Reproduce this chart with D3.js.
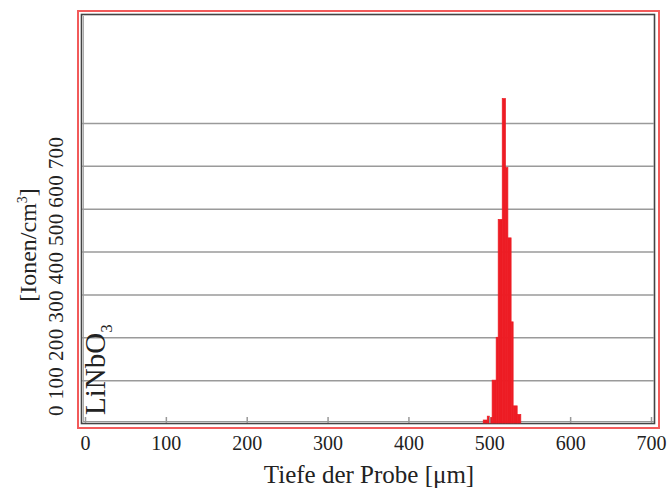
<!DOCTYPE html>
<html>
<head>
  <meta charset="utf-8" />
  <title>LiNbO3 Tiefenprofil</title>
  <style>
    body { margin: 0; background: #fff; }
    svg text { font-family: "Liberation Serif", "Times New Roman", serif; fill: #222; }
  </style>
</head>
<body>
  <svg id="chart" width="667" height="490"></svg>

  <script src="https://cdn.jsdelivr.net/npm/d3@7"></script>
  <script>
    // bin edges (µm) and counts
    var binEdges = [492.5, 497.5, 500, 503.5, 508.5, 511, 516, 520, 523, 527, 529.5, 534.5, 539]
    var counts = [7, 16, 13, 100, 200, 475, 757, 596, 432, 236, 40, 20]
    var xTicks = [0, 100, 200, 300, 400, 500, 600, 700]
    var yTicks = [0, 100, 200, 300, 400, 500, 600, 700]
    var xTitle = 'Tiefe der Probe [\u03bcm]'
    var material = 'LiNbO'

    var svg = d3.select('#chart')

    var x = d3.scaleLinear().domain([0, 700]).range([85, 651])
    var y = d3.scaleLinear().domain([0, 700]).range([423, 123])

    // frame: red outer line, dark inner line
    svg.append('rect')
      .attr('x', 78).attr('y', 11).attr('width', 581).attr('height', 417)
      .attr('fill', 'none').attr('stroke', '#f25a5a').attr('stroke-width', 2)
    svg.append('rect')
      .attr('x', 81.5).attr('y', 14.5).attr('width', 573).attr('height', 409)
      .attr('fill', 'none').attr('stroke', '#444').attr('stroke-width', 1.6)
    svg.append('line')
      .attr('x1', 83.5).attr('x2', 83.5).attr('y1', 16).attr('y2', 421)
      .attr('stroke', '#aaa').attr('stroke-width', 1)
    svg.append('line')
      .attr('x1', 83).attr('x2', 654).attr('y1', 421.5).attr('y2', 421.5)
      .attr('stroke', '#999').attr('stroke-width', 1)

    // horizontal grid lines
    var grid = svg.append('g')
      .attr('transform', 'translate(82,0)')
      .call(d3.axisLeft(y).tickValues(yTicks.slice(1)).tickSize(-572).tickFormat(''))
    grid.select('.domain').remove()
    grid.selectAll('line').attr('stroke', '#9a9a9a').attr('stroke-width', 1.5)

    // bars
    svg.append('g')
      .selectAll('rect')
      .data(counts)
      .enter()
      .append('rect')
      .attr('x', function (d, i) { return x(binEdges[i]) })
      .attr('width', function (d, i) { return x(binEdges[i + 1]) - x(binEdges[i]) })
      .attr('y', function (d) { return y(d) })
      .attr('height', function (d) { return y(0) - y(d) })
      .attr('fill', '#ed1c24')
      .attr('stroke', '#ed1c24')
      .attr('stroke-width', 0.7)

    // x axis: small ticks pointing up, labels below the frame
    var xAxis = svg.append('g')
      .attr('transform', 'translate(0,423)')
      .call(d3.axisBottom(x).tickValues(xTicks).tickSize(-6).tickPadding(13))
    xAxis.select('.domain').remove()
    xAxis.selectAll('line').attr('stroke', '#999').attr('stroke-width', 1.5)
    xAxis.selectAll('text')
      .style('font-size', '20px')
      .style('font-family', '"Liberation Serif", serif')
      .attr('fill', '#222')

    svg.append('text')
      .attr('x', 369).attr('y', 483)
      .attr('text-anchor', 'middle')
      .style('font-size', '25px')
      .text(xTitle)

    // y tick labels are set as one rotated line of text
    svg.append('text')
      .attr('transform', 'translate(63,416) rotate(-90)')
      .attr('textLength', 279)
      .attr('lengthAdjust', 'spacing')
      .style('font-size', '21px')
      .text(yTicks.join(' '))

    var yTitle = svg.append('text')
      .attr('transform', 'translate(36,245) rotate(-90)')
      .attr('text-anchor', 'middle')
      .style('font-size', '24px')
    yTitle.append('tspan').text('[Ionen/cm')
    yTitle.append('tspan').attr('dy', -9).style('font-size', '14px').text('3')
    yTitle.append('tspan').attr('dy', 9).text(']')

    var mat = svg.append('text')
      .attr('transform', 'translate(105,415) rotate(-90)')
      .style('font-size', '29px')
    mat.append('tspan').text(material)
    mat.append('tspan').attr('dy', 7).style('font-size', '17px').text('3')
  </script>
</body>
</html>
